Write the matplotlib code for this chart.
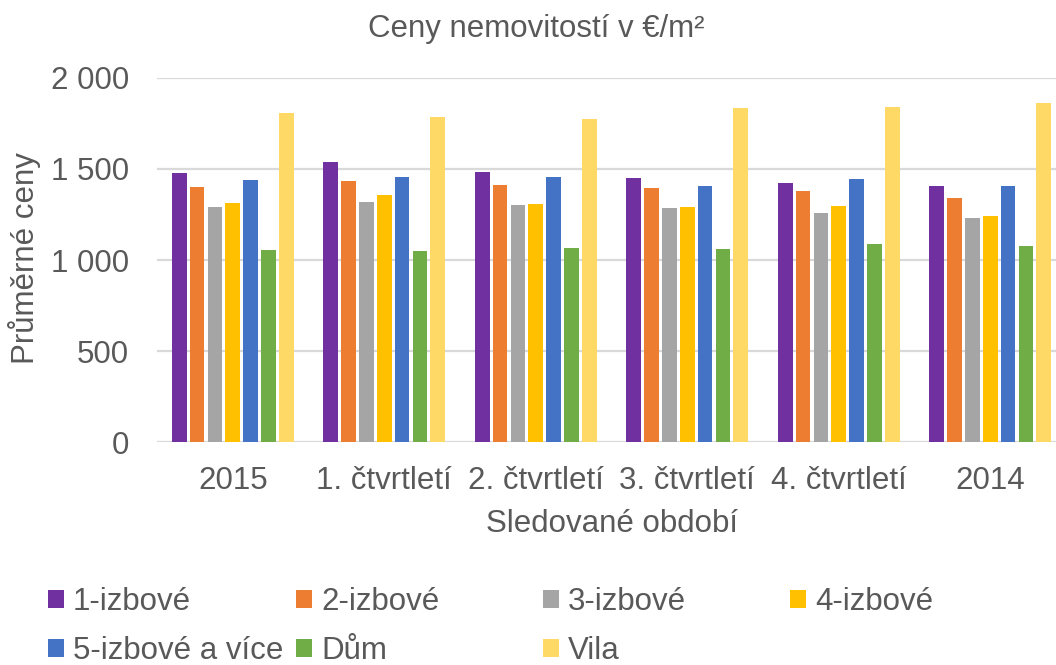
import matplotlib
matplotlib.use("Agg")
import matplotlib.pyplot as plt
import numpy as np

plt.rcParams['font.family'] = ['Liberation Sans', 'DejaVu Sans']

categories = ["2015", "1. čtvrtletí", "2. čtvrtletí", "3. čtvrtletí", "4. čtvrtletí", "2014"]
series_names = ["1-izbové", "2-izbové", "3-izbové", "4-izbové", "5-izbové a více", "Dům", "Vila"]
izb1 = [1476, 1535, 1484, 1452, 1423, 1404]
izb2 = [1403, 1434, 1412, 1396, 1377, 1342]
izb3 = [1291, 1319, 1300, 1286, 1258, 1229]
izb4 = [1313, 1357, 1308, 1293, 1297, 1243]
izb5 = [1441, 1456, 1456, 1408, 1445, 1404]
dum = [1057, 1049, 1064, 1060, 1086, 1079]
vila = [1809, 1786, 1775, 1835, 1837, 1863]
series = [izb1, izb2, izb3, izb4, izb5, dum, vila]
colors = ["#7030A0", "#ED7D31", "#A5A5A5", "#FFC000", "#4472C4", "#70AD47", "#FFD966"]
yticks = [0, 500, 1000, 1500, 2000]
ytick_labels = ["0", "500", "1 000", "1 500", "2 000"]

W, H = 1056, 665
fig = plt.figure(figsize=(W / 100, H / 100), dpi=100)
ax_bottom, ax_top = 442.3, 77.7
ax = fig.add_axes([157 / W, 1 - ax_bottom / H, (1066 - 157) / W, (ax_bottom - ax_top) / H])

txt = "#595959"
fs = 22.5
x = np.arange(len(categories))
step = 0.1175
bw = 0.097
bars = []
for i, (vals, c) in enumerate(zip(series, colors)):
    b = ax.bar(x + (i - 3) * step, vals, width=bw, color=c, zorder=3, label=series_names[i])
    bars.append(b)

ax.set_xlim(-0.5, len(categories) - 0.5)
ax.set_ylim(0, 2000)
ax.set_yticks(yticks)
ax.set_yticklabels(ytick_labels)
ax.set_xticks(x)
ax.set_xticklabels(categories)
ax.tick_params(axis='both', length=0, labelsize=fs, colors=txt)
ax.tick_params(axis='y', pad=20)
ax.tick_params(axis='x', pad=17)
for s in ax.spines.values():
    s.set_visible(False)
ax.yaxis.grid(True, color="#D9D9D9", linewidth=1.6, zorder=0)
ax.set_axisbelow(True)

ax.set_xlabel("Sledované období", fontsize=fs, color=txt, va='center')
ax.xaxis.set_label_coords(0.5, (ax_bottom - 524) / (ax_bottom - ax_top))
fig.text(25 / W, 1 - 258 / H, "Průměrné ceny", rotation=90, fontsize=fs, color=txt,
         ha='center', va='center')
fig.text(536 / W, 1 - 29 / H, "Ceny nemovitostí v €/m²", fontsize=fs, color=txt,
         ha='center', va='center')

col_x = [48, 296, 543, 790]
row_y = [602, 651]
layout = [(0, 0, 0), (1, 1, 0), (2, 2, 0), (3, 3, 0), (4, 0, 1), (5, 1, 1), (6, 2, 1)]
for k, c, r in layout:
    leg = fig.legend([bars[k]], [series_names[k]],
                     loc='center left', bbox_to_anchor=(col_x[c] / W, 1 - row_y[r] / H),
                     frameon=False, fontsize=fs, handlelength=0.5, handleheight=0.5,
                     handletextpad=0.3, borderaxespad=0, borderpad=0)
    for t in leg.get_texts():
        t.set_color(txt)

fig.savefig("out.png", dpi=100)
